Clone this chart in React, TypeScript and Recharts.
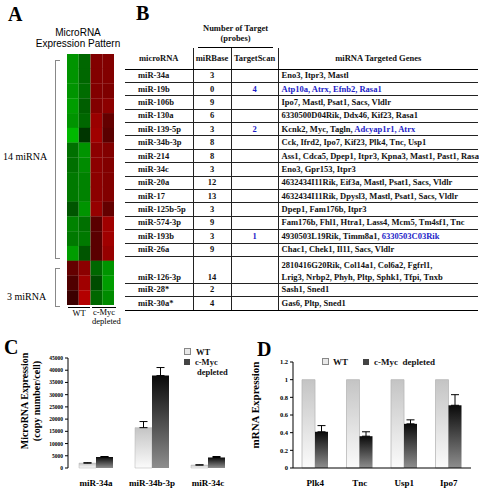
import { Bar, BarChart, Cell, ErrorBar, XAxis, YAxis } from "recharts";

const SERIF = '"Liberation Serif", "Times New Roman", serif';
const SANS = '"Liberation Sans", Arial, sans-serif';

// heatmap: + = red (up), - = green (down); 14 + 3 miRNA rows
const heatWT1 = [-0.6, -0.6, -0.6, -0.65, -0.6, -0.8, -0.4, -0.4, -0.45, -0.45, -0.25, -0.5, -0.45, -0.65, 0.35, 0.25, 0.15];
const heatWT2 = [-0.35, -0.35, -0.38, -0.3, -0.35, -0.08, -0.6, -0.55, -0.5, -0.5, -0.6, -0.4, -0.45, -0.25, 0.55, 0.65, 0.75];
const heatKD1 = [0.5, 0.5, 0.5, 0.5, 0.62, 0.65, 0.55, 0.55, 0.55, 0.55, 0.6, 0.3, 0.3, 0.3, -0.35, -0.2, -0.35];
const heatKD2 = [0.5, 0.5, 0.48, 0.55, 0.35, 0.3, 0.5, 0.5, 0.5, 0.5, 0.35, 0.65, 0.65, 0.6, -0.6, -0.65, -0.55];

// table B
const mirnas = ["miR-34a", "miR-19b", "miR-106b", "miR-130a", "miR-139-5p", "miR-34b-3p", "miR-214", "miR-34c", "miR-20a", "miR-17", "miR-125b-5p", "miR-574-3p", "miR-193b", "miR-26a", "miR-126-3p", "miR-28*", "miR-30a*"];
const mirbase = ["3", "0", "9", "6", "3", "8", "8", "3", "12", "13", "3", "9", "3", "9", "14", "2", "4"];
const targetscan = ["", "4", "", "", "2", "", "", "", "", "", "", "", "1", "", "", "", ""];
const genesBlack = [
  "Eno3, Itpr3, Mastl",
  "",
  "Ipo7, Mastl, Psat1, Sacs, Vldlr",
  "6330500D04Rik, Ddx46, Kif23, Rasa1",
  "Kcnk2, Myc, Tagln, ",
  "Cck, Ifrd2, Ipo7, Kif23, Plk4, Tnc, Usp1",
  "Ass1, Cdca5, Dpep1, Itpr3, Kpna3, Mast1, Past1, Rasa",
  "Eno3, Gpr153, Itpr3",
  "4632434I11Rik, Eif3a, Mastl, Psat1, Sacs, Vldlr",
  "4632434I11Rik, Dpysl3, Mastl, Psat1, Sacs, Vldlr",
  "Dpep1, Fam176b, Itpr3",
  "Fam176b, Fhl1, Htra1, Lass4, Mcm5, Tm4sf1, Tnc",
  "4930503L19Rik, Timm8a1, ",
  "Chac1, Chek1, Il11, Sacs, Vldlr",
  "2810416G20Rik, Col14a1, Col6a2, Fgfrl1,\nLrig3, Nrbp2, Phyh, Pltp, Sphk1, Tfpi, Tnxb",
  "Sash1, Sned1",
  "Gas6, Pltp, Sned1",
];
const genesBlue = ["", "Atp10a, Atrx, Efnb2, Rasa1", "", "", "Adcyap1r1, Atrx", "", "", "", "", "", "", "", "6330503C03Rik", "", "", "", ""];

// panel C
const cCats = ["miR-34a", "miR-34b-3p", "miR-34c"];
const cWT = [2000, 16500, 1200];
const cWTErr = [150, 2500, 100];
const cKD = [4500, 37800, 4300];
const cKDErr = [200, 3300, 400];
const cTicks = [0, 5000, 10000, 15000, 20000, 25000, 30000, 35000, 40000, 45000];

// panel D
const dCats = ["Plk4", "Tnc", "Usp1", "Ipo7"];
const dWT = [1, 1, 1, 1];
const dKD = [0.41, 0.36, 0.5, 0.71];
const dKDErr = [0.07, 0.05, 0.045, 0.12];
const dTicks = [0, 0.2, 0.4, 0.6, 0.8, 1, 1.2];

function heatColor(v: number) {
  if (v >= 0) return `rgb(${Math.round(30 + 200 * v)},0,0)`;
  return `rgb(0,${Math.round(40 + 180 * -v)},0)`;
}

const heatCols: [string, number[]][] = [
  ["wt1", heatWT1],
  ["wt2", heatWT2],
  ["kd1", heatKD1],
  ["kd2", heatKD2],
];
const heatData = heatWT1.map((_, i) => ({ row: i, wt1: 1, wt2: 1, kd1: 1, kd2: 1 }));

const cData = cCats.map((name, i) => ({ name, wt: cWT[i], wtErr: [0, cWTErr[i]], kd: cKD[i], kdErr: [0, cKDErr[i]] }));
const dData = dCats.map((name, i) => ({ name, wt: dWT[i], kd: dKD[i], kdErr: [0, dKDErr[i]] }));

const abs = (left: number, top: number, extra: object = {}) => ({ position: "absolute" as const, left, top, ...extra });
const panelLetter = { fontFamily: SERIF, fontWeight: 700, fontSize: 20, lineHeight: "20px" };

function Heatmap() {
  return (
    <>
      <div style={abs(8, 4, panelLetter)}>A</div>
      <div style={abs(28, 27, { width: 100, textAlign: "center", fontFamily: SANS, fontSize: 10, lineHeight: "11px" })}>
        MicroRNA
        <br />
        <span style={{ whiteSpace: "nowrap" }}>Expression Pattern</span>
      </div>
      <div style={abs(67, 54)}>
        <BarChart width={47} height={251} data={heatData} layout="vertical" margin={{ top: 0, right: 0, left: 0, bottom: 0 }} barCategoryGap={0}>
          <XAxis type="number" hide domain={[0, 4]} />
          <YAxis type="category" dataKey="row" hide />
          {heatCols.map(([key, vals]) => (
            <Bar key={key} dataKey={key} stackId="h" isAnimationActive={false}>
              {vals.map((v, i) => (
                <Cell key={i} fill={heatColor(v)} />
              ))}
            </Bar>
          ))}
        </BarChart>
      </div>
      {/* brackets */}
      <div style={abs(55, 60, { width: 4, height: 197, border: "1px solid #888", borderRight: "none" })} />
      <div style={abs(55, 268, { width: 4, height: 37, border: "1px solid #888", borderRight: "none" })} />
      <div style={abs(3, 151, { fontFamily: SERIF, fontSize: 10 })}>14 miRNA</div>
      <div style={abs(7, 291, { fontFamily: SERIF, fontSize: 10 })}>3 miRNA</div>
      <div style={abs(68, 307, { width: 22, borderTop: "1px solid #000", textAlign: "center", fontFamily: SERIF, fontSize: 8.5, lineHeight: "10px" })}>WT</div>
      <div style={abs(92, 307, { width: 24, borderTop: "1px solid #000", textAlign: "center", fontFamily: SERIF, fontSize: 8.5, lineHeight: "9px", whiteSpace: "nowrap" })}>
        c-Myc
        <br />
        depleted
      </div>
    </>
  );
}

function TableB() {
  const cell = { padding: 0, borderBottom: "1px solid #222", lineHeight: "11px" };
  const vr = { borderRight: "1px solid #222" };
  return (
    <>
      <div style={abs(136, 3, panelLetter)}>B</div>
      <table
        style={{
          position: "absolute",
          left: 125,
          top: 23,
          width: 353,
          borderCollapse: "collapse",
          tableLayout: "fixed",
          fontFamily: SERIF,
          fontWeight: 700,
          fontSize: 8.5,
          color: "#111",
        }}
      >
        <colgroup>
          <col style={{ width: 68 }} />
          <col style={{ width: 38 }} />
          <col style={{ width: 47 }} />
          <col style={{ width: 200 }} />
        </colgroup>
        <tbody>
          <tr style={{ height: 25 }}>
            <td />
            <td colSpan={2} style={{ padding: "0 5px", verticalAlign: "top", textAlign: "center" }}>
              <div style={{ borderBottom: "1px solid #000", lineHeight: "10px", paddingBottom: 4 }}>
                Number of Target
                <br />
                (probes)
              </div>
            </td>
            <td />
          </tr>
          <tr style={{ height: 21 }}>
            <td style={{ ...cell, ...vr, borderBottom: "1.5px solid #000", textAlign: "center" }}>microRNA</td>
            <td style={{ ...cell, ...vr, borderBottom: "1.5px solid #000", textAlign: "center" }}>miRBase</td>
            <td style={{ ...cell, ...vr, borderBottom: "1.5px solid #000", textAlign: "center" }}>TargetScan</td>
            <td style={{ ...cell, borderBottom: "1.5px solid #000", textAlign: "center" }}>miRNA Targeted Genes</td>
          </tr>
          {mirnas.map((m, i) => {
            const two = genesBlack[i].includes("\n");
            const last = i === mirnas.length - 1;
            const c = { ...cell, borderBottom: last ? "1.5px solid #000" : cell.borderBottom, verticalAlign: two ? "bottom" : "middle" };
            return (
              <tr key={m} style={{ height: two ? 26.8 : 13.4 }}>
                <td style={{ ...c, ...vr, paddingLeft: 13 }}>{m}</td>
                <td style={{ ...c, ...vr, textAlign: "center" }}>{mirbase[i]}</td>
                <td style={{ ...c, ...vr, textAlign: "center", color: "#1c1cc8" }}>{targetscan[i]}</td>
                <td style={{ ...c, paddingLeft: 3, whiteSpace: "pre", lineHeight: two ? "12px" : "11px" }}>
                  {genesBlack[i]}
                  <span style={{ color: "#1c1cc8" }}>{genesBlue[i]}</span>
                </td>
              </tr>
            );
          })}
        </tbody>
      </table>
    </>
  );
}

const tickFont = { fontFamily: SERIF, fontWeight: 700, fill: "#000" };

function Gradients({ id }: { id: string }) {
  return (
    <defs>
      <linearGradient id={`${id}wt`} x1="0" y1="0" x2="0" y2="1">
        <stop offset="0%" stopColor="#c4c4c4" />
        <stop offset="100%" stopColor="#fbfbfb" />
      </linearGradient>
      <linearGradient id={`${id}kd`} x1="0" y1="0" x2="0" y2="1">
        <stop offset="0%" stopColor="#0a0a0a" />
        <stop offset="100%" stopColor="#8e8e8e" />
      </linearGradient>
    </defs>
  );
}

function PanelC() {
  return (
    <>
      <div style={abs(4, 337, panelLetter)}>C</div>
      <div style={abs(0, 340)}>
        <BarChart width={240} height={151} data={cData} margin={{ top: 18, right: 4, left: 0, bottom: 0 }} barGap={0} barSize={17}>
          <Gradients id="c" />
          <XAxis xAxisId="t" type="number" domain={[0, 3]} ticks={[0, 1, 2, 3]} tick={false} height={0} tickSize={3} axisLine={{ stroke: "#000" }} tickLine={{ stroke: "#000" }} />
          <XAxis xAxisId="c" dataKey="name" axisLine={false} tickLine={false} height={23} tickMargin={6} interval={0} tick={{ ...tickFont, fontSize: 9 }} />
          <YAxis
            domain={[0, 45000]}
            ticks={cTicks}
            width={68}
            tickSize={3}
            axisLine={{ stroke: "#000" }}
            tickLine={{ stroke: "#000" }}
            tick={{ ...tickFont, fontSize: 5.5 }}
            label={{
              content: () => (
                <g fontFamily={SERIF} fontWeight={700} fontSize={10} fill="#000">
                  <text transform="translate(28,61) rotate(-90)" textAnchor="middle">MicroRNA Expression</text>
                  <text transform="translate(40,61) rotate(-90)" textAnchor="middle">(copy number/cell)</text>
                </g>
              ),
            }}
          />
          <Bar xAxisId="c" dataKey="wt" fill="url(#cwt)" stroke="#b0b0b0" strokeWidth={0.5} isAnimationActive={false}>
            <ErrorBar dataKey="wtErr" width={4} stroke="#000" strokeWidth={1} direction="y" />
          </Bar>
          <Bar xAxisId="c" dataKey="kd" fill="url(#ckd)" isAnimationActive={false}>
            <ErrorBar dataKey="kdErr" width={4} stroke="#000" strokeWidth={1} direction="y" />
          </Bar>
        </BarChart>
      </div>
      <div style={abs(184, 347, { fontFamily: SERIF, fontWeight: 700, fontSize: 8.5, lineHeight: "10px", color: "#111" })}>
        <div>
          <span style={{ display: "inline-block", width: 5, height: 5, border: "1px solid #888", background: "#e8e8e8", marginRight: 5 }} />
          WT
        </div>
        <div>
          <span style={{ display: "inline-block", width: 6, height: 6, background: "#444", marginRight: 5 }} />
          c-Myc
        </div>
        <div style={{ paddingLeft: 13 }}>depleted</div>
      </div>
    </>
  );
}

function PanelD() {
  return (
    <>
      <div style={abs(257, 339, panelLetter)}>D</div>
      <div style={abs(240, 340)}>
        <BarChart width={239} height={151} data={dData} margin={{ top: 22, right: 8, left: 0, bottom: 0 }} barGap={0} barSize={13}>
          <Gradients id="d" />
          <XAxis dataKey="name" axisLine={{ stroke: "#000" }} tickLine={false} height={23} tickMargin={6} interval={0} tick={{ ...tickFont, fontSize: 9 }} />
          <YAxis
            domain={[0, 1.2]}
            ticks={dTicks}
            width={53}
            tickSize={3}
            axisLine={{ stroke: "#000" }}
            tickLine={{ stroke: "#000" }}
            tick={{ ...tickFont, fontSize: 6.5 }}
            label={{
              content: () => (
                <text transform="translate(19,65) rotate(-90)" textAnchor="middle" fontFamily={SERIF} fontWeight={700} fontSize={11} fill="#000">
                  mRNA Expression
                </text>
              ),
            }}
          />
          <Bar dataKey="wt" fill="url(#dwt)" stroke="#b8b8b8" strokeWidth={0.8} isAnimationActive={false} />
          <Bar dataKey="kd" fill="url(#dkd)" isAnimationActive={false}>
            <ErrorBar dataKey="kdErr" width={4} stroke="#000" strokeWidth={1} direction="y" />
          </Bar>
        </BarChart>
      </div>
      <div style={abs(322, 357, { fontFamily: SERIF, fontWeight: 700, fontSize: 9, lineHeight: "10px", color: "#111", whiteSpace: "nowrap" })}>
        <span style={{ display: "inline-block", width: 5, height: 5, border: "1px solid #888", background: "#e8e8e8", marginRight: 4 }} />
        WT
        <span style={{ display: "inline-block", width: 6, height: 6, background: "#444", marginLeft: 15, marginRight: 5 }} />
        c-Myc&nbsp;&nbsp;depleted
      </div>
    </>
  );
}

export default function App() {
  return (
    <div style={{ position: "absolute", left: 0, top: 0, width: 479, height: 491, background: "#fff", overflow: "hidden" }}>
      <Heatmap />
      <TableB />
      <PanelC />
      <PanelD />
    </div>
  );
}
